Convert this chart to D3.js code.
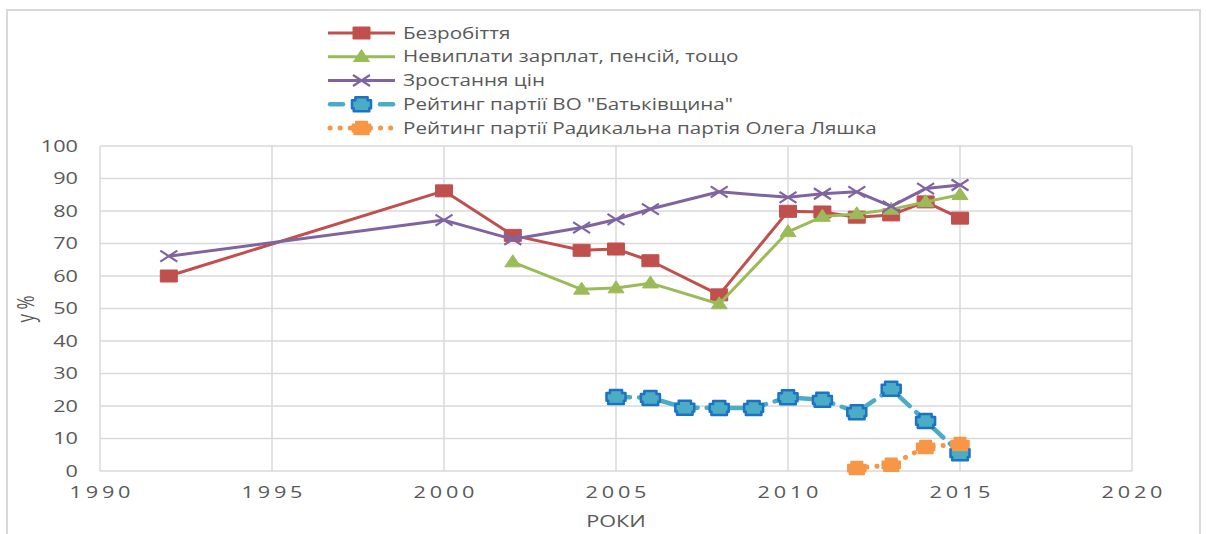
<!DOCTYPE html>
<html><head><meta charset="utf-8">
<script src="https://cdn.jsdelivr.net/npm/d3@7"></script>
<style>
html,body{margin:0;padding:0;background:#fff;}
svg{display:block;font-family:"Open Sans",sans-serif;}
</style></head>
<body><svg id="c" width="1206" height="534"></svg>
<script>
// ---- data ----
const xTicks = [1990, 1995, 2000, 2005, 2010, 2015, 2020];
const yTicks = [0, 10, 20, 30, 40, 50, 60, 70, 80, 90, 100];

const unemploymentYears = [1992, 2000, 2002, 2004, 2005, 2006, 2008, 2010, 2011, 2012, 2013, 2014, 2015];
const unemployment      = [60, 86.2, 72.5, 67.9, 68.3, 64.7, 54.2, 79.9, 79.7, 78.1, 78.8, 82.8, 77.8];

const wageYears = [2002, 2004, 2005, 2006, 2008, 2010, 2011, 2012, 2013, 2014, 2015];
const wages     = [64.3, 55.9, 56.3, 57.8, 51.4, 73.6, 78.3, 79.1, 80.5, 82.8, 85.0];

const priceYears = [1992, 2000, 2002, 2004, 2005, 2006, 2008, 2010, 2011, 2012, 2013, 2014, 2015];
const prices     = [66.1, 77.2, 71.3, 74.9, 77.4, 80.6, 85.9, 84.2, 85.3, 85.9, 81.4, 86.9, 88.0];

const batkYears = [2005, 2006, 2007, 2008, 2009, 2010, 2011, 2012, 2013, 2014, 2015];
const batk      = [22.8, 22.5, 19.5, 19.4, 19.4, 22.7, 21.9, 18.1, 25.3, 15.4, 5.5];

const lyashkoYears = [2012, 2013, 2014, 2015];
const lyashko      = [0.9, 1.9, 7.4, 8.3];

const seriesNames = [
  "Безробіття",
  "Невиплати зарплат, пенсій, тощо",
  "Зростання цін",
  "Рейтинг партії ВО \"Батьківщина\"",
  "Рейтинг партії Радикальна партія Олега Ляшка"
];
const xTitle = "РОКИ";
const yTitle = "у %";

// ---- layout ----
const svg = d3.select("#c");
const L = 100, R = 1132, T = 146, B = 471;
const x = d3.scaleLinear().domain([1990, 2020]).range([L, R]);
const y = d3.scaleLinear().domain([0, 100]).range([B, T]);
const grid = "#d9d9d9", txt = "#595959";
const SX = 1.4; // horizontal stretch of the reference

// outer frame
svg.append("rect").attr("x", 7).attr("y", 10).attr("width", 1193).attr("height", 540)
  .attr("fill", "none").attr("stroke", grid).attr("stroke-width", 2);

// gridlines
svg.append("g").selectAll("line").data(yTicks).join("line")
  .attr("x1", L).attr("x2", R).attr("y1", d => y(d)).attr("y2", d => y(d))
  .attr("stroke", grid).attr("stroke-width", 1.5);
svg.append("g").selectAll("line").data(xTicks).join("line")
  .attr("x1", d => x(d)).attr("x2", d => x(d)).attr("y1", T).attr("y2", B)
  .attr("stroke", grid).attr("stroke-width", 1.5);

// y tick labels
svg.append("g").selectAll("text").data(yTicks).join("text")
  .attr("transform", d => `translate(78,${y(d)}) scale(${SX},1)`)
  .attr("text-anchor", "end").attr("dy", "0.36em")
  .attr("font-size", 15.5).attr("fill", txt).text(d => d);

// x tick labels
svg.append("g").selectAll("text").data(xTicks).join("text")
  .attr("transform", d => `translate(${x(d)},498) scale(${SX},1)`)
  .attr("text-anchor", "middle").attr("dx", 1.35)
  .attr("font-size", 15.5).attr("letter-spacing", 2.7).attr("fill", txt).text(d => d);

// axis titles
svg.append("text").attr("transform", `translate(616,527) scale(${SX},1)`)
  .attr("text-anchor", "middle").attr("font-size", 15.5).attr("fill", txt).text(xTitle);
svg.append("text").attr("transform", `translate(34,309) rotate(-90) scale(1,${SX})`)
  .attr("text-anchor", "middle").attr("font-size", 17).attr("fill", txt).text(yTitle);

// ---- marker shapes ----
function squareP(w, h) { return `M${-w/2},${-h/2}H${w/2}V${h/2}H${-w/2}Z`; }
function triP(w, h) { return `M0,${-h*0.6}L${w/2},${h*0.4}L${-w/2},${h*0.4}Z`; }
function xP(w, h) { return `M${-w/2},${-h/2}L${w/2},${h/2}M${w/2},${-h/2}L${-w/2},${h/2}`; }
function blobP(w, h) {
  const a = w/2, b = h/2, n = w*0.18, m = h*0.22;
  return `M${-a+n},${-b}H${a-n}V${-b+m}H${a}V${b-m}H${a-n*0.5}V${b}H${-a+n*0.5}V${b-m}H${-a}V${-b+m}H${-a+n}Z`;
}

const series = [
  {name: seriesNames[0], xs: unemploymentYears, ys: unemployment, color: "#c0504d", width: 3, dash: null, cap: "butt",
   marker: () => squareP(17, 12), mfill: "#c0504d", mstroke: "#c0504d", mw: 1},
  {name: seriesNames[1], xs: wageYears, ys: wages, color: "#9bbb59", width: 3, dash: null, cap: "butt",
   marker: () => triP(16, 12), mfill: "#9bbb59", mstroke: "#9bbb59", mw: 1},
  {name: seriesNames[2], xs: priceYears, ys: prices, color: "#8064a2", width: 3, dash: null, cap: "butt",
   marker: () => xP(17, 11), mfill: "none", mstroke: "#8064a2", mw: 2.2},
  {name: seriesNames[3], xs: batkYears, ys: batk, color: "#4bacc6", width: 4.5, dash: "14,9", cap: "round",
   marker: () => blobP(19, 14), mfill: "#4bacc6", mstroke: "#1c72c4", mw: 2.5},
  {name: seriesNames[4], xs: lyashkoYears, ys: lyashko, color: "#f79646", width: 5, dash: "0.1,10", cap: "round",
   marker: () => blobP(18, 13), mfill: "#f79646", mstroke: "#f79646", mw: 1.5}
];

const line = d3.line().x(d => x(d[0])).y(d => y(d[1]));

series.forEach(s => {
  const pts = s.xs.map((v, i) => [v, s.ys[i]]);
  const g = svg.append("g");
  g.append("path").datum(pts).attr("d", line).attr("fill", "none")
    .attr("stroke", s.color).attr("stroke-width", s.width)
    .attr("stroke-linejoin", "round").attr("stroke-linecap", s.cap)
    .attr("stroke-dasharray", s.dash);
  g.selectAll(".m").data(pts).join("path")
    .attr("transform", d => `translate(${x(d[0])},${y(d[1])})`)
    .attr("d", s.marker()).attr("fill", s.mfill).attr("stroke", s.mstroke)
    .attr("stroke-width", s.mw).attr("stroke-linejoin", "round");
});

// ---- legend ----
const legRowY = d3.scaleLinear().domain([0, 4]).range([33, 128]);
const lg = svg.append("g");
const LX1 = 328, LX2 = 395, LM = 361.5, LT = 403;
series.forEach((s, i) => {
  const yy = legRowY(i);
  if (i === 3) {
    [[LX1 + 2, LX1 + 15], [LX2 - 15, LX2 - 2]].forEach(seg => {
      lg.append("line").attr("x1", seg[0]).attr("x2", seg[1]).attr("y1", yy).attr("y2", yy)
        .attr("stroke", s.color).attr("stroke-width", s.width).attr("stroke-linecap", "round");
    });
  } else {
    lg.append("line").attr("x1", LX1).attr("x2", LX2).attr("y1", yy).attr("y2", yy)
      .attr("stroke", s.color).attr("stroke-width", s.width)
      .attr("stroke-dasharray", s.dash ? "0.1,10" : null)
      .attr("stroke-dashoffset", s.dash ? -2 : 0)
      .attr("stroke-linecap", s.cap);
  }
  lg.append("path").attr("transform", `translate(${LM},${yy})`).attr("d", s.marker())
    .attr("fill", s.mfill).attr("stroke", s.mstroke).attr("stroke-width", s.mw)
    .attr("stroke-linejoin", "round");
  lg.append("text").attr("transform", `translate(${LT},${yy}) scale(1.33,1)`)
    .attr("dy", "0.36em").attr("font-size", 15.5).attr("fill", txt).text(s.name);
});
</script>
</body></html>
